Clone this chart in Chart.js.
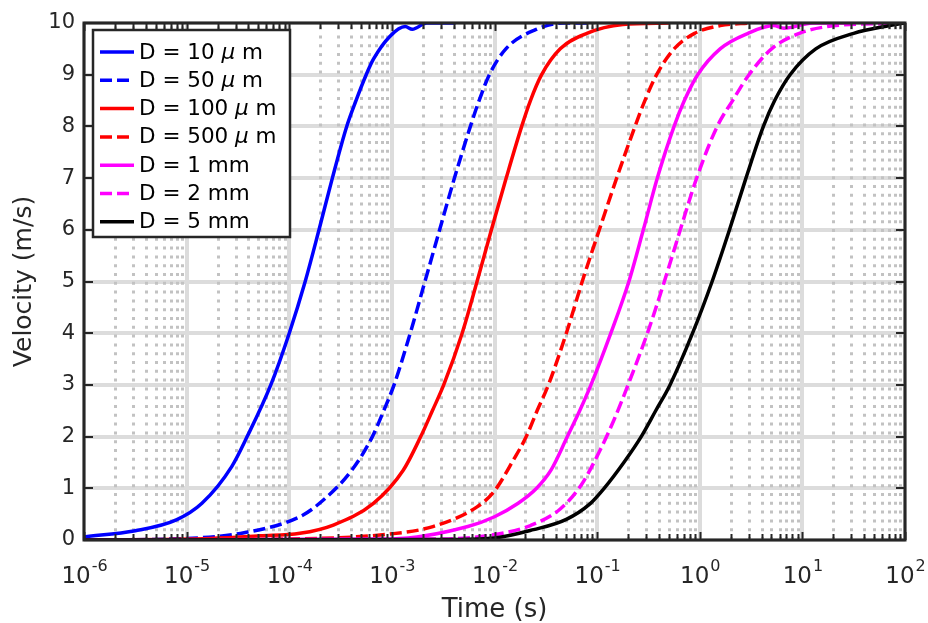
<!DOCTYPE html>
<html>
<head>
<meta charset="utf-8">
<script src="https://cdn.jsdelivr.net/npm/chart.js@4.4.0/dist/chart.umd.min.js"></script>
<style>
html, body { margin: 0; padding: 0; background: #fff; }
#wrap { width: 928px; height: 623px; }
</style>
</head>
<body>
<div id="wrap"><canvas id="chart" width="928" height="623"></canvas></div>
<script>
// velocity (m/s) vs time (s)
const seriesLabels = ['D = 10 μ m', 'D = 50 μ m', 'D = 100 μ m', 'D = 500 μ m', 'D = 1 mm', 'D = 2 mm', 'D = 5 mm'];
const seriesColors = ['#0000ff', '#0000ff', '#ff0000', '#ff0000', '#ff00ff', '#ff00ff', '#000000'];
const seriesDashed = [false, true, false, true, false, true, false];

const t10um = [1.0e-6, 3.16e-6, 7.94e-6, 1.41e-5, 2.75e-5, 3.89e-5, 6.61e-5, 1.0e-4, 1.43e-4, 1.95e-4, 2.63e-4, 3.63e-4, 4.47e-4, 5.62e-4, 6.61e-4, 9.55e-4, 1.35e-3, 1.58e-3, 2.19e-3, 4.17e-3];
const v10um = [0.06, 0.18, 0.39, 0.71, 1.42, 2.0, 3.0, 4.0, 5.0, 6.0, 7.0, 8.0, 8.5, 9.0, 9.3, 9.74, 9.93, 9.88, 10.0, 10.0];

const t50um = [1.0e-6, 1.0e-5, 3.63e-5, 1.27e-4, 2.0e-4, 4.07e-4, 6.46e-4, 8.32e-4, 1.05e-3, 1.51e-3, 2.1e-3, 2.92e-3, 4.07e-3, 5.82e-3, 7.08e-3, 8.91e-3, 1.29e-2, 2.51e-2, 4.68e-2, 8.71e-2];
const v50um = [0.0, 0.03, 0.14, 0.45, 0.72, 1.35, 2.0, 2.5, 3.0, 4.0, 5.0, 6.0, 7.0, 8.0, 8.5, 9.0, 9.5, 9.87, 10.0, 10.0];

const t100um = [1.0e-6, 1.7e-5, 5.25e-5, 1.27e-4, 2.69e-4, 6.61e-4, 1.29e-3, 1.91e-3, 2.48e-3, 3.2e-3, 4.84e-3, 6.76e-3, 9.33e-3, 1.3e-2, 1.84e-2, 2.24e-2, 2.88e-2, 4.37e-2, 7.94e-2, 0.178, 0.501];
const v100um = [0.0, 0.03, 0.08, 0.13, 0.29, 0.71, 1.35, 2.0, 2.5, 3.0, 4.0, 5.0, 6.0, 7.0, 8.0, 8.5, 9.0, 9.5, 9.8, 9.97, 10.0];

const t500um = [1.0e-6, 1.0e-4, 1.0e-3, 2.51e-3, 6.76e-3, 1.0e-2, 1.53e-2, 2.04e-2, 2.6e-2, 3.35e-2, 5.01e-2, 7.16e-2, 0.105, 0.155, 0.234, 0.292, 0.38, 0.562, 0.891, 1.58, 3.16];
const v500um = [0.0, 0.02, 0.12, 0.26, 0.64, 0.95, 1.55, 2.0, 2.5, 3.0, 4.0, 5.0, 6.0, 7.0, 8.0, 8.5, 9.0, 9.5, 9.8, 9.95, 10.0];

const t1mm = [1.0e-6, 1.0e-3, 5.5e-3, 1.0e-2, 1.7e-2, 2.57e-2, 3.55e-2, 5.13e-2, 6.76e-2, 8.71e-2, 0.136, 0.204, 0.282, 0.386, 0.562, 0.708, 0.955, 1.58, 2.95, 5.25, 6.61, 12.6, 31.6];
const v1mm = [0.0, 0.02, 0.26, 0.45, 0.71, 1.0, 1.35, 2.0, 2.5, 3.0, 4.0, 5.0, 6.0, 7.0, 8.0, 8.5, 9.0, 9.5, 9.8, 9.95, 9.9, 10.0, 10.0];

const t2mm = [1.0e-6, 3.16e-3, 1.12e-2, 2.24e-2, 4.37e-2, 7.08e-2, 0.107, 0.148, 0.2, 0.309, 0.452, 0.646, 0.933, 1.48, 2.09, 3.02, 5.01, 9.33, 17.4, 89.1];
const v2mm = [0.0, 0.02, 0.12, 0.28, 0.6, 1.08, 1.74, 2.35, 3.0, 4.0, 5.0, 6.0, 7.0, 8.0, 8.5, 9.0, 9.5, 9.8, 9.93, 10.0];

const t5mm = [1.0e-6, 3.16e-3, 1.0e-2, 2.4e-2, 5.01e-2, 8.51e-2, 0.117, 0.182, 0.269, 0.372, 0.513, 0.851, 1.32, 1.95, 2.82, 4.17, 5.37, 7.59, 13.5, 31.6, 70.8, 100];
const v5mm = [0.0, 0.01, 0.04, 0.2, 0.4, 0.7, 1.0, 1.5, 2.0, 2.5, 3.0, 4.0, 5.0, 6.0, 7.0, 8.0, 8.5, 9.0, 9.5, 9.8, 9.95, 10.0];

const xTickExps = [-6, -5, -4, -3, -2, -1, 0, 1, 2];
const yTickValues = [0, 1, 2, 3, 4, 5, 6, 7, 8, 9, 10];

const times = [t10um, t50um, t100um, t500um, t1mm, t2mm, t5mm];
const vels = [v10um, v50um, v100um, v500um, v1mm, v2mm, v5mm];

const FONT = '"DejaVu Sans", "Liberation Sans", Arial, sans-serif';
const AXIS_COLOR = '#262626';
const DASH = [12, 5];

function isMajor(v) {
    const l = Math.log10(v);
    return Math.abs(l - Math.round(l)) < 1e-6;
}

const datasets = seriesLabels.map((label, i) => ({
    label: label,
    data: times[i].map((t, j) => ({ x: t, y: vels[i][j] })),
    borderColor: seriesColors[i],
    borderWidth: 3.5,
    borderDash: seriesDashed[i] ? DASH : [],
    pointRadius: 0,
    fill: false,
    cubicInterpolationMode: 'monotone',
    order: seriesLabels.length - i
}));

const matlabAxes = {
    id: 'matlabAxes',
    beforeDatasetsDraw(chart) {
        // dotted minor grid
        const { ctx, chartArea: a, scales: { x } } = chart;
        ctx.save();
        ctx.strokeStyle = '#c2c2c2';
        ctx.lineWidth = 3;
        ctx.setLineDash([3, 5.8]);
        x.ticks.forEach(t => {
            if (isMajor(t.value)) return;
            const px = Math.round(x.getPixelForValue(t.value)) + 0.5;
            ctx.beginPath();
            ctx.moveTo(px, a.bottom);
            ctx.lineTo(px, a.top);
            ctx.stroke();
        });
        ctx.restore();
    },
    afterDatasetsDraw(chart) {
        const { ctx, chartArea: a, scales: { x, y } } = chart;
        ctx.save();
        ctx.strokeStyle = AXIS_COLOR;
        ctx.lineWidth = 2;
        x.ticks.forEach(t => {
            const px = Math.round(x.getPixelForValue(t.value)) + 0.5;
            const len = isMajor(t.value) ? 8 : 6;
            ctx.beginPath();
            ctx.moveTo(px, a.bottom); ctx.lineTo(px, a.bottom - len);
            ctx.moveTo(px, a.top); ctx.lineTo(px, a.top + len);
            ctx.stroke();
        });
        yTickValues.forEach(v => {
            const py = Math.round(y.getPixelForValue(v));
            ctx.beginPath();
            ctx.moveTo(a.left, py); ctx.lineTo(a.left + 9, py);
            ctx.moveTo(a.right, py); ctx.lineTo(a.right - 9, py);
            ctx.stroke();
        });
        ctx.lineWidth = 3;
        ctx.strokeRect(a.left, a.top, a.right - a.left, a.bottom - a.top);

        // legend box
        const lx = 93, ly = 30, lw = 197, lh = 207;
        ctx.fillStyle = '#ffffff';
        ctx.fillRect(lx, ly, lw, lh);
        ctx.lineWidth = 2.5;
        ctx.strokeRect(lx, ly, lw, lh);
        chart.data.datasets.forEach((ds, i) => {
            const yy = 52 + i * 28.3;
            ctx.strokeStyle = ds.borderColor;
            ctx.lineWidth = 3.5;
            ctx.setLineDash(ds.borderDash);
            ctx.beginPath();
            ctx.moveTo(100, yy);
            ctx.lineTo(134, yy);
            ctx.stroke();
            ctx.setLineDash([]);
            ctx.fillStyle = '#000000';
            ctx.textBaseline = 'middle';
            const parts = ds.label.split('μ');
            let tx = 139;
            ctx.font = '21.5px ' + FONT;
            ctx.fillText(parts[0], tx, yy + 1);
            tx += ctx.measureText(parts[0]).width;
            if (parts.length > 1) {
                ctx.font = 'italic 21.5px ' + FONT;
                ctx.fillText('μ', tx, yy + 1);
                tx += ctx.measureText('μ').width;
                ctx.font = '21.5px ' + FONT;
                ctx.fillText(parts[1], tx, yy + 1);
            }
        });
        ctx.restore();
    },
    afterDraw(chart) {
        // x tick labels as 10^n
        const { ctx, scales: { x } } = chart;
        ctx.save();
        ctx.fillStyle = AXIS_COLOR;
        ctx.textBaseline = 'alphabetic';
        xTickExps.forEach(e => {
            const px = x.getPixelForValue(Math.pow(10, e));
            const exp = String(e);
            ctx.font = '23px ' + FONT;
            const wb = ctx.measureText('10').width;
            ctx.font = '16px ' + FONT;
            const we = ctx.measureText(exp).width;
            const start = px - (wb + we) / 2;
            ctx.font = '23px ' + FONT;
            ctx.fillText('10', start, 583);
            ctx.font = '16px ' + FONT;
            ctx.fillText(exp, start + wb + 1, 571);
        });
        ctx.restore();
    }
};

new Chart(document.getElementById('chart'), {
    type: 'line',
    data: { datasets: datasets },
    options: {
        responsive: false,
        animation: false,
        devicePixelRatio: 1,
        layout: { padding: { left: 0, top: 23, right: 23, bottom: 0 } },
        plugins: { legend: { display: false }, tooltip: { enabled: false } },
        scales: {
            x: {
                type: 'logarithmic',
                min: 1e-6,
                max: 1e2,
                afterBuildTicks: scale => {
                    const ticks = [];
                    for (let e = -6; e < 2; e++) {
                        for (let k = 1; k <= 9; k++) ticks.push({ value: k * Math.pow(10, e) });
                    }
                    ticks.push({ value: 100 });
                    scale.ticks = ticks;
                },
                afterFit: scale => { scale.height = 83; },
                ticks: { display: false },
                grid: {
                    drawTicks: false,
                    color: c => (c.tick && isMajor(c.tick.value)) ? '#dcdcdc' : 'rgba(0,0,0,0)',
                    lineWidth: 4
                },
                border: { display: false },
                title: {
                    display: true,
                    text: 'Time (s)',
                    color: AXIS_COLOR,
                    font: { family: FONT, size: 26, lineHeight: 1 },
                    padding: { top: 1, bottom: 0 }
                }
            },
            y: {
                min: 0,
                max: 10,
                afterBuildTicks: scale => { scale.ticks = yTickValues.map(v => ({ value: v })); },
                afterFit: scale => { scale.width = 84; },
                ticks: {
                    color: AXIS_COLOR,
                    font: { family: FONT, size: 21 },
                    padding: 9
                },
                grid: { drawTicks: false, color: '#dcdcdc', lineWidth: 4 },
                border: { display: false },
                title: {
                    display: true,
                    text: 'Velocity (m/s)',
                    color: AXIS_COLOR,
                    font: { family: FONT, size: 25, lineHeight: 1 },
                    padding: { top: 12, bottom: 0 }
                }
            }
        }
    },
    plugins: [matlabAxes]
});
</script>
</body>
</html>
